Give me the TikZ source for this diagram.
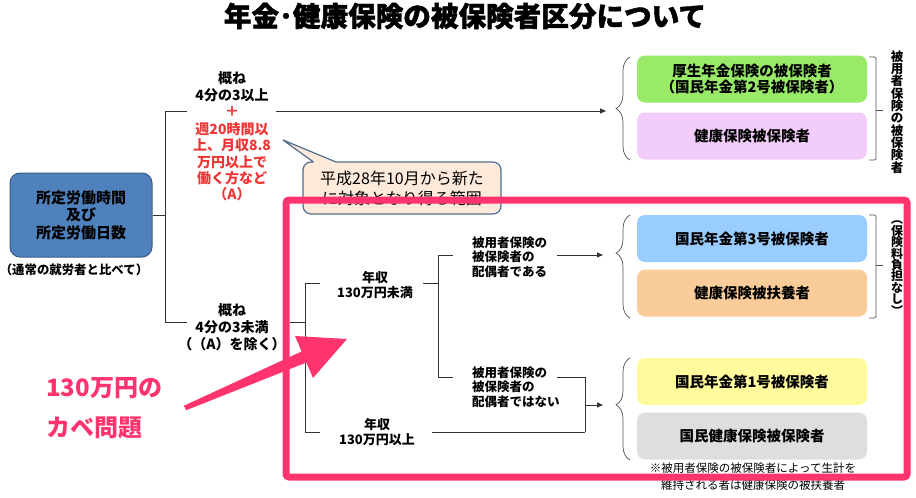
\documentclass[tikz,border=0pt]{standalone}
\usepackage{fontspec}
\setmainfont{Noto Sans CJK JP}
\usetikzlibrary{arrows.meta,decorations.pathreplacing}
\definecolor{srcblue}{RGB}{79,129,189}
\definecolor{srcedge}{RGB}{56,93,138}
\definecolor{callfill}{RGB}{253,234,218}
\definecolor{calledge}{RGB}{80,110,145}
\definecolor{kgreen}{RGB}{152,234,104}
\definecolor{klilac}{RGB}{242,204,250}
\definecolor{kblue}{RGB}{153,204,255}
\definecolor{kpeach}{RGB}{250,204,153}
\definecolor{kyellow}{RGB}{255,250,155}
\definecolor{kgrey}{RGB}{222,222,222}
\definecolor{hotpink}{RGB}{255,51,110}
\definecolor{redtxt}{RGB}{238,52,52}
\definecolor{linegray}{RGB}{50,50,50}
\newcommand{\tightlines}{\lineskiplimit=-30pt\lineskip=0pt}
\begin{document}
\begin{tikzpicture}[x=1pt,y=-1pt,
  conn/.style={draw=linegray,line width=0.8pt},
  arr/.style={conn,-{Triangle[length=6pt,width=5pt]}},
  bracestyle/.style={draw=linegray!85,line width=0.7pt,decorate,decoration={brace,amplitude=14pt,aspect=#1}},
  bracestyle/.default=0.5,
  brk/.style={draw=linegray!85,line width=0.7pt,rounded corners=1.5pt},
  lbl/.style={inner sep=0pt,align=center,font=\bfseries\fontsize{14}{17}\selectfont},
  sml/.style={inner sep=0pt,align=left,font=\bfseries\fontsize{12.5}{14.5}\selectfont},
  inc/.style={inner sep=0pt,align=center,font=\bfseries\fontsize{13}{15}\selectfont},
  kbox/.style={minimum width=230pt,minimum height=47pt,rounded corners=8pt,inner sep=0pt,align=center,font=\bfseries\fontsize{14.5}{16}\selectfont},
  srcbox/.style={rounded corners=10pt,fill=srcblue,draw=srcedge,line width=1pt,minimum width=142pt,minimum height=84pt,inner sep=0pt,align=center,font=\bfseries\fontsize{15}{17.5}\selectfont},
  callout/.style={draw=calledge,fill=callfill,rounded corners=8pt,line width=1.2pt,minimum width=198pt,minimum height=52pt,inner sep=0pt,align=center,font=\fontsize{16}{20}\selectfont},
  vtext/.style={inner sep=0pt,align=center,font=\bfseries\fontsize{12.5}{12.3}\selectfont\tightlines},
  vtextb/.style={inner sep=0pt,align=center,font=\bfseries\fontsize{12}{11.4}\selectfont\tightlines},
  walltext/.style={anchor=west,inner sep=0pt,text=hotpink,font=\bfseries\fontsize{24}{28}\selectfont}
]
\useasboundingbox (0,0) rectangle (916,498);

% title
\node[inner sep=0pt,font=\bfseries\fontsize{27.6}{30}\selectfont\addfontfeature{FakeBold=1.5}] (title) at (465,16) {年金･健康保険の被保険者区分について};

% source box
\node[srcbox] (src) at (81,215) {所定労働時間\\及び\\所定労働日数};
\node[inner sep=0pt,font=\bfseries\fontsize{12.4}{14}\selectfont] (cmp) at (74,270) {（通常の就労者と比べて）};

% upper branch texts
\node[lbl] (upA) at (232,86.5) {概ね\\4分の3以上};
\node[lbl,text=redtxt] (plus) at (232,111) {＋};
\node[lbl,text=redtxt,font=\bfseries\fontsize{14}{16.3}\selectfont] (upB) at (232,162) {週20時間以\\上、月収8.8\\万円以上で\\働く方など\\（A）};
% lower branch text
\node[lbl] (low) at (232,327) {概ね\\4分の3未満\\（（A）を除く）};

% main tree
\coordinate (j0) at (165,215);
\coordinate (jt) at (165,111);
\coordinate (jb) at (165,322);
\coordinate (ta) at (187,111);
\coordinate (tb) at (276,111);
\coordinate (tend) at (606,111);
\coordinate (ba) at (187,322);
\coordinate (bb) at (290,322);
\draw[conn] (src.east) -- (j0);
\draw[conn] (jt) -- (jb);
\draw[conn] (jt) -- (ta);
\draw[arr] (tb) -- (tend);
\draw[conn] (jb) -- (ba);

% second-level tree
\coordinate (k0) at (305,322);
\coordinate (k1) at (305,283);
\coordinate (k2) at (305,432);
\coordinate (k1a) at (320,283);
\coordinate (k1b) at (423,283);
\coordinate (k2a) at (320,432);
\coordinate (k2b) at (432,432);
\draw[conn] (bb) -- (k0);
\draw[conn] (k1) -- (k2);
\draw[conn] (k1) -- (k1a);
\draw[conn] (k2) -- (k2a);
\node[inc] (inc1) at (375,285.5) {年収\\130万円未満};
\node[inc] (inc2) at (377,432.5) {年収\\130万円以上};

% third-level tree
\coordinate (m0) at (438,283);
\coordinate (m1) at (438,255);
\coordinate (m2) at (438,377);
\coordinate (m1a) at (453,255);
\coordinate (m2a) at (453,377);
\coordinate (s1) at (557,255);
\coordinate (s1e) at (603,255);
\coordinate (s2) at (557,377);
\coordinate (c1) at (585,377);
\coordinate (c2) at (585,432);
\coordinate (c3) at (585,405);
\coordinate (s3e) at (603,405);
\draw[conn] (k1b) -- (m0);
\draw[conn] (m1) -- (m2);
\draw[conn] (m1) -- (m1a);
\draw[conn] (m2) -- (m2a);
\node[sml,anchor=west] (sp1) at (472,257) {被用者保険の\\被保険者の\\配偶者である};
\node[sml,anchor=west] (sp2) at (472,387) {被用者保険の\\被保険者の\\配偶者ではない};
\draw[arr] (s1) -- (s1e);
\draw[conn] (s2) -- (c1) -- (c2);
\draw[conn] (k2b) -- (c2);
\draw[arr] (c3) -- (s3e);

% right boxes
\node[kbox,fill=kgreen] (b1) at (752,79) {厚生年金保険の被保険者\\（国民年金第2号被保険者）};
\node[kbox,fill=klilac] (b2) at (752,136) {健康保険被保険者};
\node[kbox,fill=kblue] (b3) at (752,238.5) {国民年金第3号被保険者};
\node[kbox,fill=kpeach] (b4) at (752,293) {健康保険被扶養者};
\node[kbox,fill=kyellow] (b5) at (752,381.5) {国民年金第1号被保険者};
\node[kbox,fill=kgrey] (b6) at (752,436) {国民健康保険被保険者};

% braces
\draw[bracestyle=0.5] (630,160) -- (630,57);
\draw[bracestyle=0.63] (630,318) -- (630,215);
\draw[bracestyle=0.54] (630,460) -- (630,358);
\draw[brk] (869,57) -- (876,57) -- (876,160) -- (869,160);
\draw[brk] (876,110) -- (883,110);
\draw[brk] (869,215) -- (876,215) -- (876,318) -- (869,318);
\draw[brk] (876,265) -- (883,265);

% vertical labels
\node[vtext] (v1) at (897,112) {被\\用\\者\\保\\険\\の\\被\\保\\険\\者};
\node[vtextb] (v2) at (897,268) {︵\\保\\険\\料\\負\\担\\な\\し\\︶};

% note
\node[inner sep=0pt,align=center,font=\fontsize{11.5}{17}\selectfont] (note) at (753,476.5) {※被用者保険の被保険者によって生計を\\維持される者は健康保険の被扶養者};

% callout
\node[callout] (call) at (402,188) {平成28年10月から新た\\に対象となり得る範囲};
\fill[callfill] (283,140) -- (313.5,162) -- (313.5,163.4) -- (336,163.4) -- (336,162) -- cycle;
\draw[calledge,line width=1.2pt,line join=round] (313.5,162) -- (283,140) -- (336,162);

% highlight frame
\node[draw=hotpink,line width=7pt,rounded corners=3pt,minimum width=621pt,minimum height=277pt,inner sep=0pt] (hl) at (596.5,338.5) {};

% big pink arrow
\fill[hotpink,line join=round] (184,405.7) -- (301.6,351.5) -- (295,336) -- (347,339) -- (313,378) -- (306.4,362.5) -- (186,410.3) -- cycle;

% wall text
\node[walltext] (wall1) at (46,388) {130万円の};
\node[walltext] (wall2) at (46,428) {カベ問題};
\end{tikzpicture}
\end{document}
